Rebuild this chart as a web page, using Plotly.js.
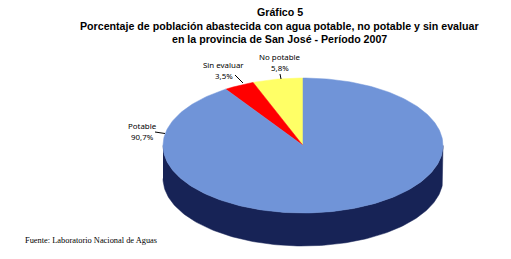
<!DOCTYPE html>
<html><head><meta charset="utf-8">
<script src="https://cdn.plot.ly/plotly-3.0.1.min.js"></script>
<style>html,body{margin:0;padding:0;background:#fff}#c{width:511px;height:259px}</style>
</head><body><div id="c"></div>
<script>
const categories = ["No potable", "Sin evaluar", "Potable"];
const values = [5.8, 3.5, 90.7];
const valueLabels = ["5,8%", "3,5%", "90,7%"];
const colors = ["#FFFF66", "#FF0000", "#7094D8"];
const sideColor = "#172356";
const titleLines = ["Gráfico 5",
  "Porcentaje de población abastecida con agua potable, no potable y sin evaluar",
  "en la provincia de San José - Período 2007"];
const sourceText = "Fuente: Laboratorio Nacional de Aguas";

const W = 511, H = 259, CX = 303, CY = 145.5, RX = 140, RY = 67.5, DEPTH = 33 / 67.5;
const total = values.reduce((a, b) => a + b, 0);
function arc(fromPct, toPct, dy) {
  const xs = [], ys = [], n = Math.max(2, Math.ceil(Math.abs(toPct - fromPct) * 3));
  for (let i = 0; i <= n; i++) {
    const t = -2 * Math.PI * (fromPct + (toPct - fromPct) * i / n) / 100;
    xs.push(Math.sin(t)); ys.push(Math.cos(t) - dy);
  }
  return [xs, ys];
}
const traces = [];
{
  const [x1, y1] = arc(25, 75, 0), [x2, y2] = arc(75, 25, DEPTH);
  traces.push({type: "scatter", mode: "lines", x: x1.concat(x2), y: y1.concat(y2), fill: "toself",
    fillcolor: sideColor, line: {width: 0.5, color: sideColor}, hoverinfo: "skip", showlegend: false});
}
let cum = 0;
values.forEach((v, i) => {
  const pct = v / total * 100;
  const [x, y] = arc(cum, cum + pct, 0);
  traces.push({type: "scatter", mode: "lines", name: categories[i], x: [0].concat(x, [0]), y: [0].concat(y, [0]),
    fill: "toself", fillcolor: colors[i], line: {width: 0.5, color: colors[i]}, showlegend: false,
    text: categories[i] + " " + valueLabels[i], hoverinfo: "text"});
  cum += pct;
});
const px = x => x / W, py = y => 1 - y / H;
const toX = p => (p - CX) / RX, toY = p => (CY - p) / RY;
[[[280, 281], [74, 79]], [[235, 243], [75, 83]], [[155, 165], [132, 133.5]]].forEach(l => {
  traces.push({type: "scatter", mode: "lines", x: l[0].map(toX), y: l[1].map(toY),
    line: {color: "#000", width: 1}, hoverinfo: "skip", showlegend: false});
});
const labelPos = [[280, 57, 67.5], [223.5, 65, 76], [142, 126, 137]];
const annotations = [];
titleLines.forEach((t, i) => annotations.push({xref: "paper", yref: "paper", x: px(279.5), y: py([12, 25.5, 39][i]),
  text: "<b>" + t + "</b>", showarrow: false, xanchor: "center", yanchor: "middle",
  font: {family: "Liberation Sans", size: 10.65, color: "#000"}}));
categories.forEach((c, i) => {
  annotations.push({xref: "paper", yref: "paper", x: px(labelPos[i][0]), y: py(labelPos[i][1]), text: c, showarrow: false,
    xanchor: "center", yanchor: "middle", font: {family: "Noto Sans", size: 7.9, color: "#000"}});
  annotations.push({xref: "paper", yref: "paper", x: px(labelPos[i][0]), y: py(labelPos[i][2]), text: valueLabels[i], showarrow: false,
    xanchor: "center", yanchor: "middle", font: {family: "Noto Sans", size: 7.9, color: "#000"}});
});
annotations.push({xref: "paper", yref: "paper", x: px(22.5), y: py(240), text: sourceText, showarrow: false,
  xanchor: "left", yanchor: "middle", font: {family: "Liberation Serif", size: 8.4, color: "#000"}});
const layout = {
  width: W, height: H, margin: {l: 0, r: 0, t: 0, b: 0}, paper_bgcolor: "#fff", plot_bgcolor: "#fff",
  xaxis: {visible: false, range: [toX(0), toX(W)], fixedrange: true},
  yaxis: {visible: false, range: [toY(H), toY(0)], fixedrange: true},
  annotations
};
Plotly.newPlot("c", traces, layout, {displayModeBar: false, staticPlot: true});
</script></body></html>
